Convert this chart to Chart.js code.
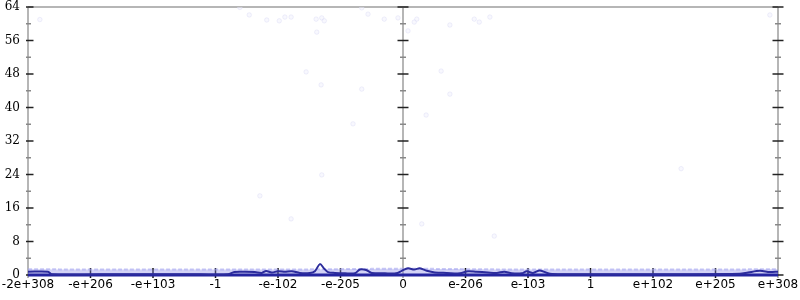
<!DOCTYPE html>
<html>
<head>
<meta charset="utf-8">
<script src="https://cdn.jsdelivr.net/npm/chart.js@4.4.1/dist/chart.umd.min.js"></script>
<style>
  html, body { margin: 0; padding: 0; background: #fff; }
  #wrap { width: 800px; height: 300px; }
</style>
</head>
<body>
<div id="wrap"><canvas id="floatChart"></canvas></div>
<script>
// x axis: 12 equal bands, labelled by magnitude
const xTickLabels = ['-2e+308', '-e+206', '-e+103', '-1', '-e-102', '-e-205', '0',
  'e-206', 'e-103', '1', 'e+102', 'e+205', 'e+308'];
const axisLines = [-6, 0, 6];
const yMin = 0;
const yMax = 64;
const yLabelStep = 8;
const yMinorStep = 4;

// main dark line
const lineX = [-6.0, -5.68, -5.62, -4.85, -4.05, -3.25, -2.80, -2.70, -2.53, -2.37, -2.26,
  -2.19, -2.10, -2.0, -1.89, -1.78, -1.65, -1.49, -1.41, -1.33, -1.26, -1.20, -1.09, -0.93,
  -0.77, -0.69, -0.59, -0.50, -0.29, -0.11, -0.02, 0.08, 0.18, 0.27, 0.38, 0.51, 0.70, 0.91,
  1.04, 1.17, 1.36, 1.50, 1.62, 1.74, 1.90, 1.98, 2.08, 2.19, 2.35, 2.67, 3.47, 4.43, 5.39,
  5.52, 5.71, 5.87, 6.0];
const lineY = [0.8, 0.8, 0.15, 0.15, 0.15, 0.15, 0.15, 0.7, 0.75, 0.7, 0.5,
  0.95, 0.6, 0.9, 0.8, 0.9, 0.5, 0.5, 0.9, 2.6, 1.5, 0.7, 0.5, 0.4,
  0.4, 1.3, 1.2, 0.5, 0.4, 0.4, 1.0, 1.6, 1.3, 1.6, 1.0, 0.6, 0.5, 0.4,
  0.9, 0.8, 0.6, 0.5, 0.8, 0.4, 0.4, 0.9, 0.5, 1.1, 0.3, 0.2, 0.2, 0.2, 0.3,
  0.6, 1.0, 0.7, 0.8];

// dark floor at zero
const floorX = [-6, 6];
const floorY = [0, 0];

// light speckled band just above zero
const bandX = [-6, -5, -4, -3, -2, -1, 0, 1, 2, 3, 4, 5, 6];
const bandY = [1.4, 1.3, 1.3, 1.3, 1.3, 1.4, 1.5, 1.4, 1.3, 1.3, 1.3, 1.3, 1.4];

// faint scattered samples
const dotX = [-5.81, -2.61, -2.46, -2.18, -1.98, -1.89, -1.79, -1.39, -1.30, -1.26, -1.38,
  -1.55, -1.31, -0.66, -0.80, -1.30, -2.29, -1.79, -0.66, -0.56, -0.30, -0.08, 0.22, 0.18,
  0.08, 0.37, 0.75, 0.61, 0.30, 0.75, 1.14, 1.22, 1.39, 1.46, 4.45, 5.87];
const dotY = [61.0, 63.9, 62.1, 60.9, 60.7, 61.6, 61.6, 61.1, 61.4, 60.7, 58.0,
  48.5, 45.4, 44.4, 36.1, 23.9, 18.9, 13.4, 63.8, 62.3, 61.1, 61.4, 61.1, 60.4,
  58.3, 38.2, 43.2, 48.7, 12.2, 59.7, 61.1, 60.4, 61.6, 9.3, 25.4, 62.1];

function pts(xs, ys) {
  return xs.map((x, i) => ({ x: x, y: ys[i] }));
}

// gray axes, top border and tick marks
const axisPlugin = {
  id: 'floatAxes',
  beforeDatasetsDraw(chart) {
    const { ctx, scales: { x, y } } = chart;
    const top = y.getPixelForValue(yMax);
    const bot = y.getPixelForValue(yMin);
    const left = x.getPixelForValue(-6);
    const right = x.getPixelForValue(6);
    ctx.save();

    ctx.strokeStyle = '#b6b6b6';
    ctx.lineWidth = 2;
    ctx.beginPath();
    ctx.moveTo(left, top);
    ctx.lineTo(right, top);
    axisLines.forEach(a => {
      const px = x.getPixelForValue(a);
      ctx.moveTo(px, top);
      ctx.lineTo(px, bot + 3);
    });
    ctx.stroke();

    for (let v = yMin; v <= yMax; v += yMinorStep) {
      const py = y.getPixelForValue(v);
      const major = v % yLabelStep === 0;
      ctx.strokeStyle = major ? '#222' : '#888';
      ctx.lineWidth = 1.5;
      axisLines.forEach(a => {
        const px = x.getPixelForValue(a);
        const lo = a === -6 ? 2 : (major ? 5.5 : 3);
        const hi = major ? 5.5 : 3;
        ctx.beginPath();
        ctx.moveTo(px - lo, py);
        ctx.lineTo(px + hi, py);
        ctx.stroke();
      });
    }

    ctx.strokeStyle = '#111';
    ctx.lineWidth = 1.5;
    x.ticks.forEach(t => {
      if (axisLines.includes(Math.round(t.value))) return;
      const px = x.getPixelForValue(t.value);
      ctx.beginPath();
      ctx.moveTo(px, bot - 7);
      ctx.lineTo(px, bot + 3);
      ctx.stroke();
    });
    ctx.restore();
  }
};

const ctx = document.getElementById('floatChart').getContext('2d');
new Chart(ctx, {
  type: 'scatter',
  data: {
    datasets: [
      {
        data: pts(lineX, lineY),
        showLine: true,
        borderColor: '#2c2c9c',
        borderWidth: 2,
        pointRadius: 0,
        tension: 0.3,
        clip: false,
        order: 0
      },
      {
        data: pts(floorX, floorY),
        showLine: true,
        borderColor: '#2424a0',
        borderWidth: 3,
        pointRadius: 0,
        clip: false,
        order: 1
      },
      {
        data: pts(bandX, bandY),
        showLine: true,
        fill: 'origin',
        backgroundColor: 'rgba(140, 140, 232, 0.38)',
        borderColor: 'rgba(165, 165, 240, 0.6)',
        borderWidth: 2,
        borderDash: [4, 2],
        pointRadius: 0,
        tension: 0.4,
        clip: false,
        order: 2
      },
      {
        data: pts(dotX, dotY),
        pointRadius: 2.2,
        backgroundColor: 'rgba(240, 240, 252, 0.45)',
        borderColor: 'rgba(222, 222, 246, 0.5)',
        borderWidth: 1,
        order: 3
      }
    ]
  },
  options: {
    responsive: true,
    maintainAspectRatio: false,
    animation: false,
    layout: { padding: 0 },
    plugins: { legend: { display: false }, tooltip: { enabled: false } },
    scales: {
      x: {
        type: 'linear',
        min: -6,
        max: 6,
        grid: { display: false, drawTicks: false },
        border: { display: false },
        ticks: {
          stepSize: 1,
          autoSkip: false,
          maxRotation: 0,
          padding: 3,
          color: '#000',
          font: { family: 'DejaVu Sans', size: 12 },
          callback: v => xTickLabels[Math.round(v) + 6]
        },
        afterFit(s) {
          s.height = 25;
          s.paddingLeft = 28;
          s.paddingRight = 22;
        }
      },
      y: {
        min: yMin,
        max: yMax,
        grid: { display: false, drawTicks: false },
        border: { display: false },
        ticks: {
          stepSize: yLabelStep,
          padding: 8,
          color: '#000',
          font: { family: 'DejaVu Serif', size: 12 }
        },
        afterFit(s) {
          s.width = 28;
          s.paddingTop = 7;
          s.paddingBottom = 0;
        }
      }
    }
  },
  plugins: [axisPlugin]
});
</script>
</body>
</html>
